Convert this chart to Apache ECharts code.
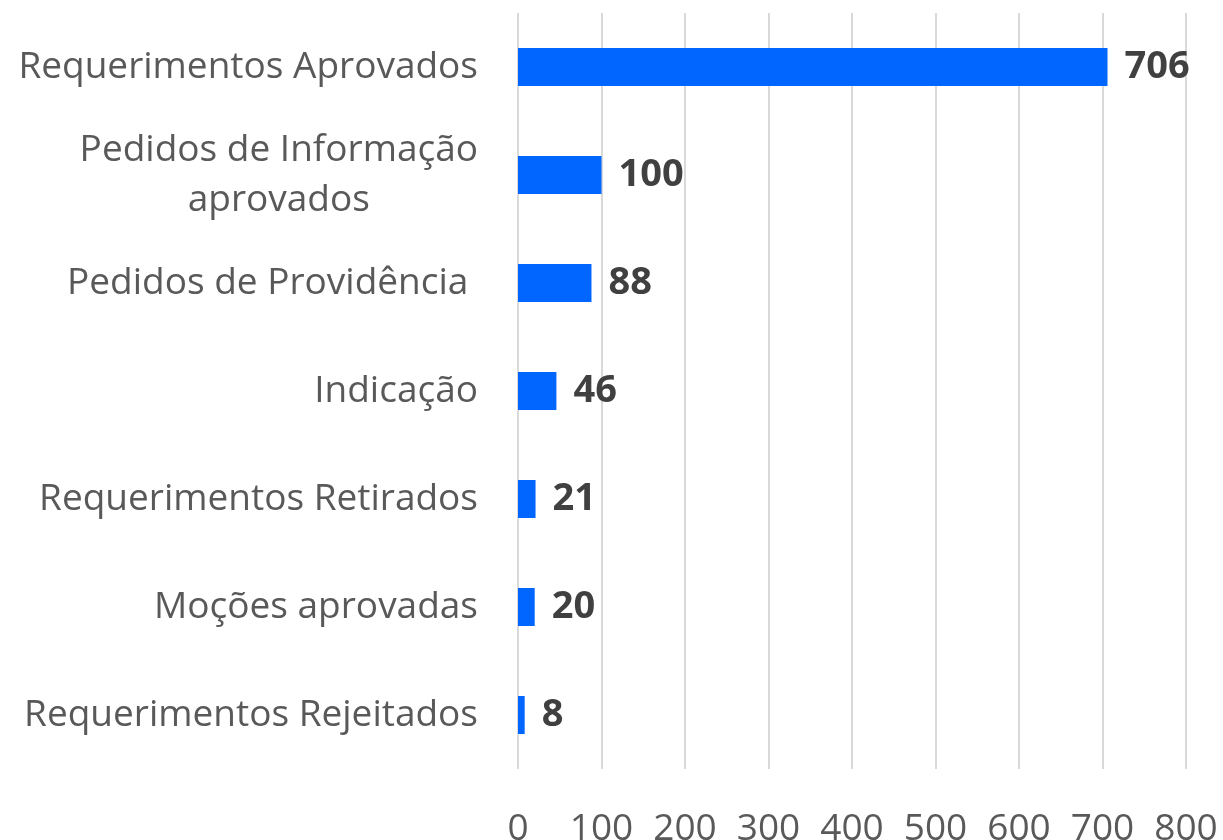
<!DOCTYPE html>
<html>
<head>
<meta charset="utf-8">
<script src="https://cdn.jsdelivr.net/npm/echarts@6/dist/echarts.min.js"></script>
<style>
    html, body { margin: 0; padding: 0; background: #fff; }
    #main { width: 1223px; height: 840px; }
</style>
</head>
<body>
<div id="main"></div>
<script>
//类别与数值
var categories = [
    'Requerimentos Aprovados',
    'Pedidos de Informação\naprovados',
    'Pedidos de Providência ',
    'Indicação',
    'Requerimentos Retirados',
    'Moções aprovadas',
    'Requerimentos Rejeitados'
];
var values = [706, 100, 88, 46, 21, 20, 8];
var axisMin = 0, axisMax = 800, axisStep = 100;

var myChart = echarts.init(document.getElementById('main'));
var fontName = '"Open Sans", "Noto Sans", sans-serif';

myChart.setOption({
    backgroundColor: '#ffffff',
    animation: false,
    grid: {
        left: 518,
        right: 37,
        top: 13,
        bottom: 71,
        containLabel: false,
        outerBoundsMode: 'none'
    },
    xAxis: {
        type: 'value',
        min: axisMin,
        max: axisMax,
        interval: axisStep,
        axisLine: { show: false },
        axisTick: { show: false },
        axisLabel: {
            margin: 42,
            fontFamily: fontName,
            fontSize: 37,
            color: '#595959'
        },
        splitLine: {
            show: true,
            lineStyle: { color: '#d9d9d9', width: 2 }
        }
    },
    yAxis: {
        type: 'category',
        inverse: true,
        data: categories,
        axisLine: { show: false },
        axisTick: { show: false },
        axisLabel: {
            margin: 40,
            fontFamily: fontName,
            fontSize: 37,
            color: '#595959',
            lineHeight: 50,
            formatter: function (v) {
                //多行标签居中
                if (v.indexOf('\n') > -1) {
                    return v.split('\n').map(function (s) {
                        return '{c|' + s + '}';
                    }).join('\n');
                }
                return v;
            },
            rich: {
                c: {
                    align: 'center',
                    fontFamily: fontName,
                    fontSize: 37,
                    color: '#595959',
                    lineHeight: 50
                }
            }
        }
    },
    series: [{
        type: 'bar',
        data: values,
        barWidth: 38,
        itemStyle: { color: '#0066ff' },
        label: {
            show: true,
            position: 'right',
            distance: 17,
            fontFamily: fontName,
            fontSize: 38,
            fontWeight: 'bold',
            color: '#404040'
        }
    }]
});
</script>
</body>
</html>
